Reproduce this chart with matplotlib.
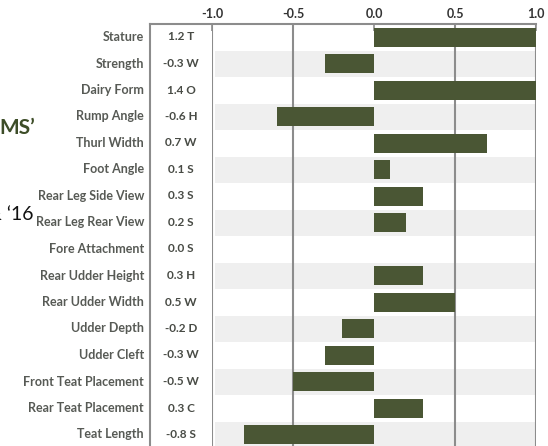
import matplotlib
matplotlib.use("Agg")
import matplotlib.pyplot as plt
from matplotlib.lines import Line2D

traits = ["Stature", "Strength", "Dairy Form", "Rump Angle", "Thurl Width", "Foot Angle",
          "Rear Leg Side View", "Rear Leg Rear View", "Fore Attachment", "Rear Udder Height",
          "Rear Udder Width", "Udder Depth", "Udder Cleft", "Front Teat Placement",
          "Rear Teat Placement", "Teat Length"]
values = [1.2, -0.3, 1.4, -0.6, 0.7, 0.1, 0.3, 0.2, 0.0, 0.3, 0.5, -0.2, -0.3, -0.5, 0.3, -0.8]
codes = ["T", "W", "O", "H", "W", "S", "S", "S", "S", "H", "W", "D", "W", "W", "C", "S"]
xticks = [-1.0, -0.5, 0.0, 0.5, 1.0]
xticklabels = ["-1.0", "-0.5", "0.0", "0.5", "1.0"]

W, H = 548, 446
fig = plt.figure(figsize=(W / 100, H / 100), dpi=100)
fig.patch.set_facecolor("white")

def fx(px):
    return px / W

def fy(py):
    return 1 - py / H

ax_left, ax_right, ax_top, ax_bot = 212, 536, 24, 448
ax = fig.add_axes([fx(ax_left), fy(ax_bot), fx(ax_right - ax_left), (ax_bot - ax_top) / H])
n = len(traits)
ax.set_xlim(-1.0, 1.0)
ax.set_ylim(n - 0.5, -0.5)
for s in ax.spines.values():
    s.set_visible(False)

bar_color = "#4a5634"
grid_color = "#8c8c8c"
stripe_color = "#efefef"

for i in range(n):
    if i % 2 == 1:
        ax.axhspan(i - 0.5, i + 0.5, xmin=0.01, xmax=1.0, color=stripe_color, lw=0, zorder=0)

for xv in [-1.0, -0.5, 0.5, 1.0]:
    ax.axvline(xv, color=grid_color, lw=1.5, zorder=1)

ax.barh(range(n), values, height=0.72, color=bar_color, zorder=2)

ax.xaxis.tick_top()
ax.set_xticks(xticks)
ax.set_xticklabels(xticklabels, fontsize=9, color="#333333", fontweight="bold", family="Lato")
ax.tick_params(axis="x", direction="in", length=5, width=1.2, color=grid_color, pad=3)
ax.set_yticks([])

# frame lines around value column
line_kw = dict(color=grid_color, lw=1.5, transform=fig.transFigure)
fig.add_artist(Line2D([fx(150), fx(536)], [fy(24), fy(24)], **line_kw))
fig.add_artist(Line2D([fx(150), fx(150)], [fy(24), fy(450)], **line_kw))

# labels and values
for i, (t, v, c) in enumerate(zip(traits, values, codes)):
    yc = 37 + 26.5 * i
    fig.text(fx(144), fy(yc), t, ha="right", va="center", fontsize=9,
             color="#575a55", fontweight="bold", family="Lato")
    fig.text(fx(181), fy(yc), f"{v:.1f} {c}", ha="center", va="center", fontsize=8.5,
             color="#484b45", fontweight="bold", family="Lato")

# partial left-side texts (cropped from a larger graphic)
fig.text(fx(-1), fy(128), "MS\u2019", ha="left", va="center", fontsize=15,
         color="#3d4d28", fontweight="bold", family="Lato")
fig.text(fx(34), fy(215), "& \u201816", ha="right", va="center", fontsize=14,
         color="#111111", family="Lato")

fig.savefig("out.png", dpi=100, facecolor="white")
